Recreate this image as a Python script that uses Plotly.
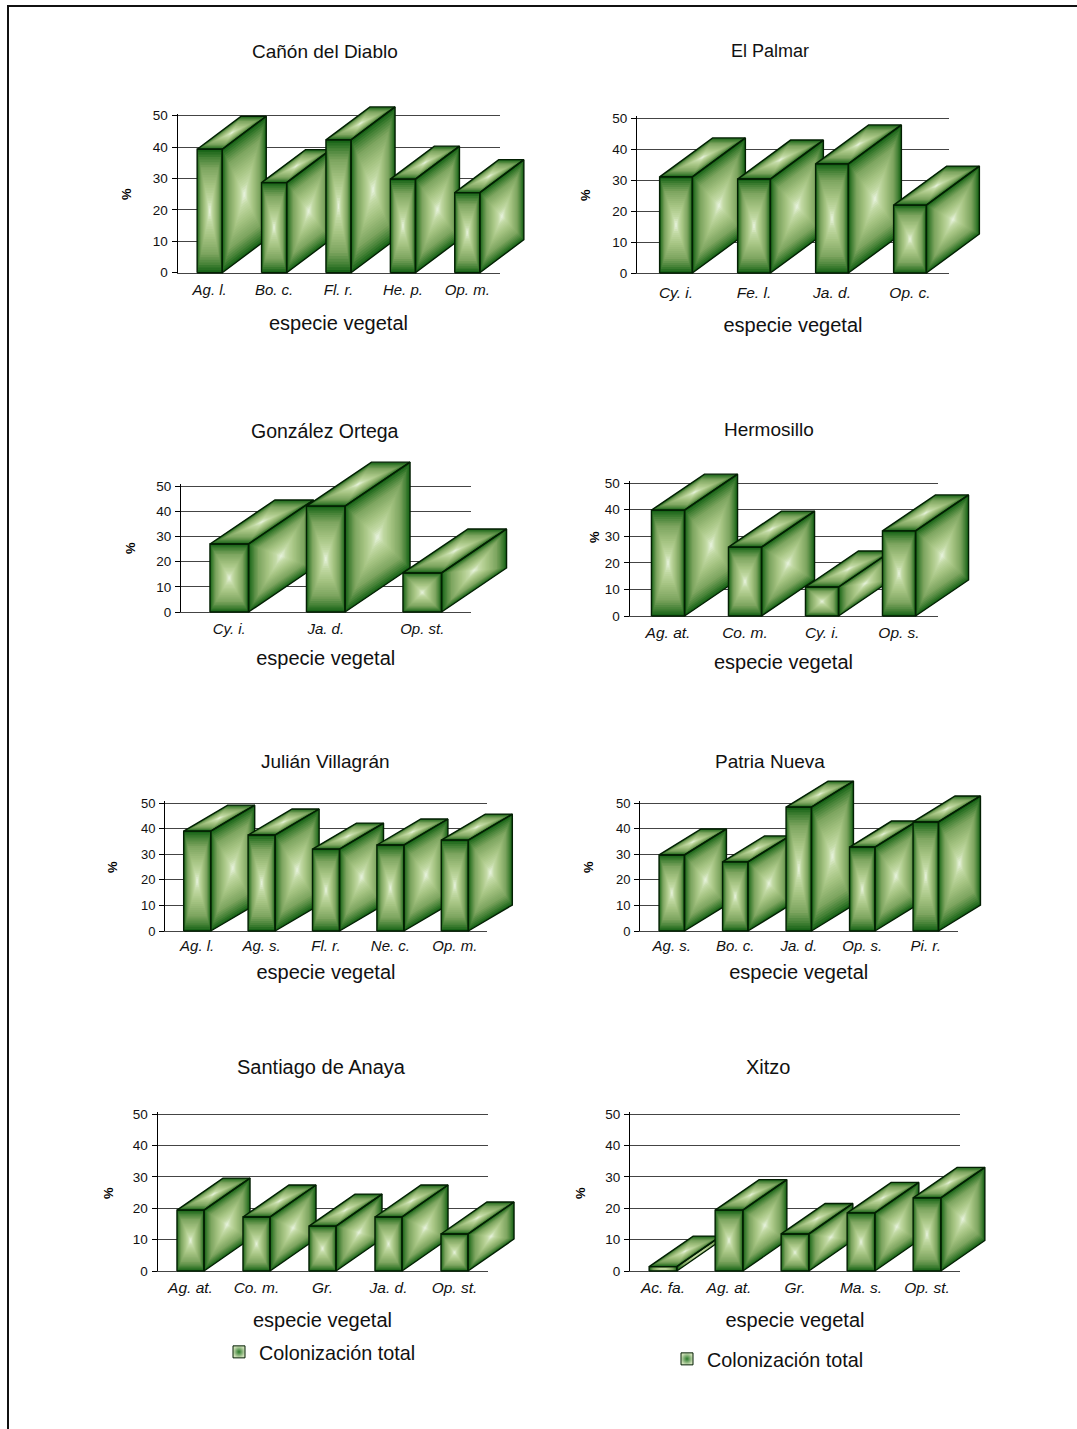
import plotly.graph_objects as go

W, H = 1077, 1429

# ---------- data ----------
TITLES = ["Cañón del Diablo", "El Palmar", "González Ortega", "Hermosillo",
          "Julián Villagrán", "Patria Nueva", "Santiago de Anaya", "Xitzo"]
CATEGORIES = [
    ["Ag. l.", "Bo. c.", "Fl. r.", "He. p.", "Op. m."],
    ["Cy. i.", "Fe. l.", "Ja. d.", "Op. c."],
    ["Cy. i.", "Ja. d.", "Op. st."],
    ["Ag. at.", "Co. m.", "Cy. i.", "Op. s."],
    ["Ag. l.", "Ag. s.", "Fl. r.", "Ne. c.", "Op. m."],
    ["Ag. s.", "Bo. c.", "Ja. d.", "Op. s.", "Pi. r."],
    ["Ag. at.", "Co. m.", "Gr.", "Ja. d.", "Op. st."],
    ["Ac. fa.", "Ag. at.", "Gr.", "Ma. s.", "Op. st."],
]
VALUES = [
    [39.3, 28.7, 42.3, 29.8, 25.5],
    [31.0, 30.3, 35.2, 21.9],
    [27.0, 42.0, 15.5],
    [39.8, 25.9, 10.9, 32.0],
    [39.0, 37.5, 32.0, 33.6, 35.5],
    [29.7, 27.0, 48.4, 32.8, 42.6],
    [19.4, 17.2, 14.3, 17.2, 11.8],
    [1.4, 19.4, 11.8, 18.5, 23.3],
]
Y_TICKS = [0, 10, 20, 30, 40, 50]
X_TITLE = "especie vegetal"
Y_TITLE = "%"
LEGEND_NAME = "Colonización total"

# ---------- layout of the panels (pixels on the page) ----------
PLOT_LEFT = [177.5, 637, 181, 629.5, 165, 640, 157.5, 630]
PLOT_RIGHT = [499.5, 949, 470.5, 937.5, 487, 957.5, 487.5, 960]
PLOT_BOTTOM = [272.7, 273, 612, 616, 931, 931, 1271, 1271]
PLOT_TOP = [115.7, 118, 486, 483, 803, 803, 1114, 1114]
BAR_FRACTION = [.39, .42, .40, .43, .42, .40, .41, .42]
DEPTH_X = [44, 53, 65, 53, 44, 42, 46, 44]
DEPTH_Y = [33, 39, 44, 36, 26, 26, 32, 30.5]
TITLE_POS = [(325, 51), (770, 51), (325, 431), (769, 429), (325, 761), (770, 761), (321, 1067), (768, 1067)]
TITLE_SIZE = [19, 18, 19.5, 19, 19, 19, 20, 20]
YTITLE_POS = [(126, 194), (586, 195), (131, 548), (595, 537), (113, 867), (589, 867), (108, 1193), (580, 1193)]
XLABEL_SIZE = [15, 15.5, 15, 15.5, 15, 15, 15.5, 15.5]
YLABEL_SIZE = [13.5, 13.5, 13.5, 13.5, 13, 13, 13.5, 13.5]
XLABEL_STANDOFF = [3, 5, 3, 2, 1, 1, 2, 2]
XTITLE_STANDOFF = [19, 18, 14, 15, 11, 11, 18, 18]
LEGEND_POS = [None] * 6 + [(219, 1352), (667, 1359)]
SPILL = 90  # room in pixels round a panel's axes for the depth of the boxes
TOP_ROOM = 2  # pixels of axis above 50, so that the top gridline is still drawn

# ---------- style ----------
FONT = "Liberation Sans, Arial, sans-serif"
RAMP = [(0.0, (24, 100, 24)), (0.12, (70, 130, 55)), (0.3, (125, 165, 95)),
        (0.6, (165, 195, 130)), (0.85, (195, 218, 165)), (1.0, (228, 240, 216))]
LEVELS = 24
EDGE = "#031f03"
GRID = "#444444"


def ramp(t):
    for (a, ca), (b, cb) in zip(RAMP, RAMP[1:]):
        if t <= b:
            f = (t - a) / (b - a)
            return "rgb(%d,%d,%d)" % tuple(round(p + (q - p) * f) for p, q in zip(ca, cb))
    return "rgb(%d,%d,%d)" % RAMP[-1][1]


def shrink(poly, s):
    cx = sum(p[0] for p in poly) / len(poly)
    cy = sum(p[1] for p in poly) / len(poly)
    return [(cx + (x - cx) * s, cy + (y - cy) * s) for x, y in poly]


def path(polys):
    xs, ys = [], []
    for poly in polys:
        for x, y in poly + poly[:1]:
            xs.append(x)
            ys.append(y)
        xs.append(None)
        ys.append(None)
    return xs, ys


fig = go.Figure()
layout = {}
annotations = []
N = len(TITLES)

# visible axes first, so that every box subplot is painted above them
for k, (title, cats) in enumerate(zip(TITLES, CATEGORIES)):
    sfx = "" if k == 0 else str(k + 1)
    xa, ya = "x" + sfx, "y" + sfx
    n = len(cats)
    px_per_val = (PLOT_BOTTOM[k] - PLOT_TOP[k]) / 50
    fig.add_trace(go.Scatter(x=[None], y=[None], xaxis=xa, yaxis=ya, mode="lines",
                             hoverinfo="skip", showlegend=False))
    layout["xaxis" + sfx] = dict(
        domain=[PLOT_LEFT[k] / W, PLOT_RIGHT[k] / W], anchor=ya,
        range=[-0.5, n - 0.5], tickvals=list(range(n)), ticktext=cats,
        tickfont=dict(family=FONT, size=XLABEL_SIZE[k], style="italic", color="#111"),
        ticks="", ticklabelstandoff=XLABEL_STANDOFF[k], showgrid=False, zeroline=False,
        showline=True, linecolor=GRID, linewidth=1.3,
        title=dict(text=X_TITLE, standoff=XTITLE_STANDOFF[k],
                   font=dict(family=FONT, size=20, color="#111")),
    )
    layout["yaxis" + sfx] = dict(
        domain=[1 - PLOT_BOTTOM[k] / H, 1 - (PLOT_TOP[k] - TOP_ROOM) / H], anchor=xa,
        range=[0, 50 + TOP_ROOM / px_per_val], tickvals=Y_TICKS,
        tickfont=dict(family=FONT, size=YLABEL_SIZE[k], color="#111"),
        ticks="outside", ticklen=5, tickcolor="#000", tickwidth=1, ticklabelstandoff=1,
        showgrid=True, gridcolor=GRID, gridwidth=1.3, zeroline=False,
        showline=True, linecolor="#000", linewidth=1,
    )
    annotations.append(dict(text=title, x=TITLE_POS[k][0] / W, y=1 - TITLE_POS[k][1] / H,
                            xref="paper", yref="paper", showarrow=False,
                            xanchor="center", yanchor="middle",
                            font=dict(family=FONT, size=TITLE_SIZE[k], color="#111")))
    annotations.append(dict(text="<b>" + Y_TITLE + "</b>", x=YTITLE_POS[k][0] / W, y=1 - YTITLE_POS[k][1] / H,
                            xref="paper", yref="paper", showarrow=False, textangle=-90,
                            xanchor="center", yanchor="middle",
                            font=dict(family=FONT, size=13, color="#000")))

# the boxes: hidden axes with the same scale as the visible ones, just with more room
for k, (cats, vals) in enumerate(zip(CATEGORIES, VALUES)):
    sfx = str(N + k + 1)
    xa, ya = "x" + sfx, "y" + sfx
    n = len(cats)
    px_per_cat = (PLOT_RIGHT[k] - PLOT_LEFT[k]) / n
    px_per_val = (PLOT_BOTTOM[k] - PLOT_TOP[k]) / 50
    dx = DEPTH_X[k] / px_per_cat
    dy = DEPTH_Y[k] / px_per_val
    w = BAR_FRACTION[k] / 2
    layout["xaxis" + sfx] = dict(domain=[PLOT_LEFT[k] / W, min(PLOT_RIGHT[k] + SPILL, W) / W], anchor=ya, visible=False,
                                 range=[-0.5, n - 0.5 + (min(PLOT_RIGHT[k] + SPILL, W) - PLOT_RIGHT[k]) / px_per_cat])
    layout["yaxis" + sfx] = dict(domain=[1 - (PLOT_BOTTOM[k] + 3) / H, 1 - (PLOT_TOP[k] - SPILL) / H], anchor=xa, visible=False,
                                 range=[-3 / px_per_val, 50 + SPILL / px_per_val])

    for i, v in enumerate(vals):
        front = [(i - w, 0), (i + w, 0), (i + w, v), (i - w, v)]
        side = [(i + w, 0), (i + w + dx, dy), (i + w + dx, v + dy), (i + w, v)]
        top = [(i - w, v), (i + w, v), (i + w + dx, v + dy), (i - w + dx, v + dy)]
        for lev in range(LEVELS):
            t = lev / (LEVELS - 1)
            s = 1 - lev / LEVELS
            xs, ys = path([shrink(front, s), shrink(side, s), shrink(top, s)])
            fig.add_trace(go.Scatter(x=xs, y=ys, xaxis=xa, yaxis=ya, mode="lines",
                                     fill="toself", fillcolor=ramp(t), line=dict(width=0),
                                     hoverinfo="skip", showlegend=False))
        xs, ys = path([front, side, top])
        fig.add_trace(go.Scatter(x=xs, y=ys, xaxis=xa, yaxis=ya, mode="lines",
                                 line=dict(color=EDGE, width=1.4), name=cats[i],
                                 hoverinfo="skip", showlegend=False))

    if LEGEND_POS[k]:
        lname = "legend" if k == 6 else "legend2"
        fig.add_trace(go.Scatter(x=[None], y=[None], xaxis=xa, yaxis=ya, mode="markers",
                                 name=LEGEND_NAME, legend=lname, showlegend=True,
                                 marker=dict(symbol="square", size=12, color="#cfe0b8",
                                             gradient=dict(type="radial", color="#2a7a2a"),
                                             line=dict(color=EDGE, width=1))))
        layout[lname] = dict(x=LEGEND_POS[k][0] / W, y=1 - LEGEND_POS[k][1] / H,
                             xanchor="left", yanchor="middle", bgcolor="rgba(0,0,0,0)",
                             borderwidth=0, itemwidth=30,
                             font=dict(family=FONT, size=19.8, color="#111"))

fig.update_layout(
    width=W, height=H, margin=dict(l=0, r=0, t=0, b=0, autoexpand=False),
    paper_bgcolor="white", plot_bgcolor="rgba(0,0,0,0)", annotations=annotations,
    shapes=[dict(type="line", xref="paper", yref="paper", x0=8 / W, x1=1, y0=1 - 6 / H, y1=1 - 6 / H,
                 line=dict(color="#111", width=2)),
            dict(type="line", xref="paper", yref="paper", x0=8 / W, x1=8 / W, y0=1 - 5 / H, y1=0,
                 line=dict(color="#111", width=2))],
    **layout,
)
fig.write_html("out.html", config=dict(displayModeBar=False),
               post_script="document.body.style.margin='0';document.body.style.overflow='hidden';")
